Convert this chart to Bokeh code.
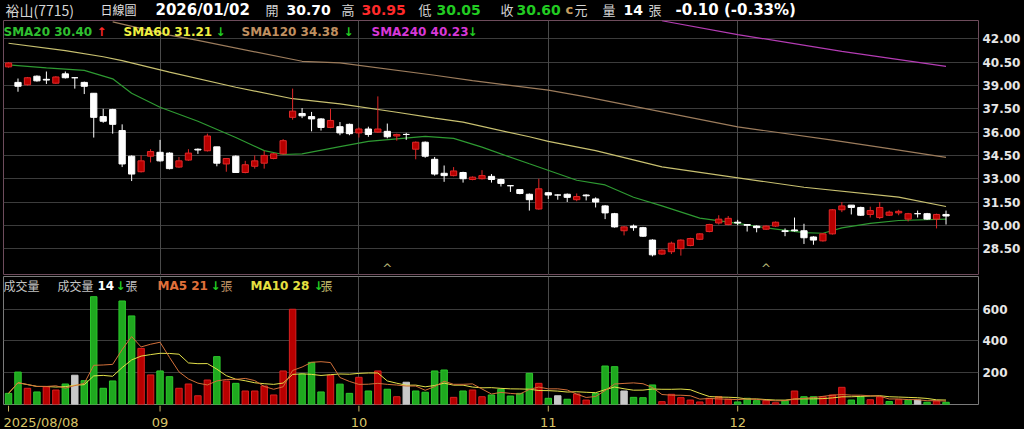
import pandas as pd
from bokeh.plotting import figure
from bokeh.layouts import column
from bokeh.models import (ColumnDataSource, FixedTicker, PrintfTickFormatter,
                          Label, Range1d, Grid)
from bokeh.core.properties import value
from bokeh.embed import file_html
from bokeh.resources import INLINE

# ---------------- data ----------------
stock_name = "裕山(7715)"
chart_kind = "日線圖"
first_date = "2025/08/08"
last_date = "2026/01/02"
month_ticks = [16, 37, 57, 77]
month_labels = ["09", "10", "11", "12"]
prev_close = 40.60

opens = [40.20, 39.20, 39.05, 39.60, 39.40, 39.15, 39.75, 39.50, 39.20, 38.50,
         37.00, 37.45, 36.10, 34.45, 33.45, 34.45, 34.70, 34.65, 33.75, 34.20,
         34.90, 34.80, 35.05, 33.95, 34.45, 33.40, 33.80, 34.00, 34.30, 34.60,
         36.95, 37.20, 37.00, 36.85, 36.30, 36.35, 36.50, 35.95, 36.20, 36.00,
         36.05, 35.75, 35.85, 34.90, 35.35, 34.25, 33.35, 33.20, 33.40, 32.95,
         33.00, 33.15, 32.95, 32.55, 32.30, 32.00, 31.05, 32.10, 31.95, 32.00,
         31.65, 31.95, 31.70, 31.25, 30.75, 29.65, 29.95, 29.85, 29.05, 28.15,
         28.30, 28.50, 28.70, 29.10, 29.60, 30.15, 30.05, 30.20, 30.05, 29.95,
         29.75, 29.95, 29.65, 29.70, 29.65, 29.25, 29.00, 29.45, 31.00, 31.30,
         31.15, 30.70, 30.50, 30.65, 30.80, 30.40, 30.75, 30.75, 30.40, 30.70]
highs = [40.50, 39.45, 39.55, 39.65, 39.90, 39.60, 39.90, 39.50, 39.25, 38.50,
         37.50, 37.50, 36.50, 34.50, 34.50, 34.90, 35.50, 34.70, 34.40, 34.90,
         34.95, 35.90, 35.05, 34.30, 34.50, 34.15, 34.50, 34.80, 34.65, 35.55,
         38.80, 37.55, 37.30, 36.90, 37.50, 36.65, 36.55, 36.30, 36.35, 38.30,
         36.55, 35.90, 35.95, 35.40, 35.40, 34.40, 33.85, 33.75, 33.45, 33.15,
         33.55, 33.30, 33.00, 32.55, 32.30, 32.05, 33.00, 32.15, 32.00, 32.05,
         32.05, 32.00, 31.80, 31.30, 30.80, 29.95, 30.05, 29.90, 29.10, 28.45,
         28.95, 29.10, 29.20, 29.50, 30.10, 30.65, 30.60, 30.35, 30.05, 30.00,
         30.00, 30.25, 29.80, 30.50, 30.10, 29.30, 29.50, 31.05, 31.50, 31.30,
         31.20, 31.20, 31.50, 30.95, 31.00, 30.80, 30.95, 30.80, 30.75, 30.95]
lows = [40.15, 38.60, 39.00, 39.25, 39.10, 39.10, 39.45, 38.80, 38.45, 35.65,
        36.60, 35.90, 33.75, 32.85, 33.40, 34.05, 34.10, 33.60, 33.70, 34.15,
        34.60, 34.75, 33.80, 33.45, 33.40, 33.35, 33.65, 33.65, 34.25, 34.55,
        36.80, 36.90, 36.05, 36.10, 36.25, 35.80, 35.80, 35.65, 35.70, 35.95,
        35.60, 35.45, 35.50, 34.25, 34.35, 33.20, 32.80, 33.15, 32.75, 32.90,
        32.95, 32.75, 32.50, 32.15, 32.00, 30.95, 31.00, 31.70, 31.65, 31.50,
        31.55, 31.60, 31.15, 30.40, 29.85, 29.35, 29.65, 29.25, 28.00, 28.10,
        28.15, 28.05, 28.65, 29.05, 29.55, 30.05, 30.00, 30.00, 29.60, 29.55,
        29.70, 29.90, 29.30, 29.60, 28.80, 28.75, 28.95, 29.40, 30.85, 30.70,
        30.60, 30.50, 30.40, 30.60, 30.65, 30.25, 30.50, 30.35, 29.80, 30.05]
closes = [40.45, 38.95, 39.50, 39.30, 39.35, 39.55, 39.50, 39.50, 38.95, 36.95,
          36.70, 36.50, 33.95, 33.30, 34.15, 34.75, 34.15, 33.65, 34.15, 34.65,
          34.85, 35.75, 34.00, 34.30, 33.40, 33.90, 34.15, 34.50, 34.60, 35.45,
          37.35, 37.05, 36.85, 36.30, 36.75, 35.95, 35.90, 36.20, 35.85, 36.20,
          35.70, 35.85, 35.85, 35.35, 34.45, 33.30, 33.20, 33.50, 33.00, 33.10,
          33.20, 32.95, 32.70, 32.55, 32.05, 31.65, 32.35, 31.95, 31.95, 31.80,
          31.85, 31.90, 31.50, 30.80, 29.90, 29.90, 29.85, 29.30, 28.10, 28.40,
          28.85, 29.05, 29.15, 29.45, 30.05, 30.40, 30.45, 30.15, 30.00, 29.85,
          29.95, 30.20, 29.60, 29.65, 29.20, 29.05, 29.45, 31.00, 31.25, 31.15,
          30.65, 30.95, 31.15, 30.85, 30.90, 30.75, 30.75, 30.40, 30.70, 30.60]
volumes = [70, 204, 102, 79, 112, 91, 129, 184, 150, 678,
           102, 148, 651, 557, 353, 186, 211, 175, 102, 129,
           55, 154, 301, 148, 133, 85, 85, 116, 60, 211,
           599, 192, 265, 79, 184, 128, 70, 171, 85, 211,
           96, 49, 140, 85, 77, 211, 217, 45, 85, 91,
           49, 60, 96, 53, 70, 196, 133, 39, 55, 33,
           66, 28, 70, 242, 238, 85, 45, 43, 123, 18,
           64, 43, 28, 16, 39, 49, 33, 16, 39, 24,
           24, 11, 24, 85, 49, 49, 49, 60, 108, 28,
           48, 30, 48, 19, 30, 27, 28, 14, 22, 14]

# moving averages of price (bar index, value)
sma20_idx = [0, 4, 8, 11, 13, 16, 20, 24, 27, 29, 31, 35, 38, 41, 44, 47, 50,
             55, 60, 63, 66, 69, 73, 77, 80, 84, 86, 88, 91, 94, 99]
sma20_val = [40.33, 40.14, 39.97, 39.43, 38.50, 37.60, 36.70, 35.65, 34.81, 34.56,
             34.60, 35.07, 35.40, 35.57, 35.72, 35.60, 35.03, 33.96, 32.90, 32.60,
             31.81, 31.25, 30.46, 30.12, 29.84, 29.53, 29.49, 29.84, 30.12, 30.31, 30.40]
sma60_idx = [0, 6, 10, 12, 17, 24, 30, 35, 41, 45, 48, 55, 57, 62, 69, 84, 94, 99]
sma60_val = [41.72, 41.25, 40.85, 40.60, 39.86, 38.89, 38.15, 37.82, 37.28, 36.90,
             36.64, 35.70, 35.40, 34.81, 33.76, 32.45, 31.81, 31.21]
sma120_idx = [11, 17, 20, 31, 35, 45, 49, 57, 61, 69, 77, 87, 93, 99]
sma120_val = [43.10, 42.24, 41.90, 40.56, 40.46, 39.66, 39.32, 38.70, 38.27, 37.30,
              36.34, 35.48, 34.94, 34.38]
sma240_idx = [69, 77, 88, 99]
sma240_val = [43.17, 42.28, 41.20, 40.23]

event_idx = [40, 80]
price_ticks = [28.5, 30.0, 31.5, 33.0, 34.5, 36.0, 37.5, 39.0, 40.5, 42.0]
volume_ticks = [200, 400, 600]

# ---------------- styling ----------------
BG = "black"
RED_FILL, RED_EDGE = "#b80000", "#e02828"
WHITE = "#ffffff"
VOL_UP, VOL_UP_EDGE = "#b80000", "#d82020"
VOL_DN, VOL_DN_EDGE = "#1fa81f", "#2cc82c"
VOL_FLAT = "#c8c8c8"
GRID_H, GRID_V = "#3c3c3c", "#4a4a4a"
UP_TXT, DN_TXT = "#ff2a2a", "#22cc22"
DATE_TXT = "#d8c468"
LABEL_TXT = "#d4d4d4"
LATIN = "DejaVu Sans"
CJK = "Noto Sans CJK TC"

W = 1024
X0, X1 = -0.53, 102.43

idx = list(range(len(closes)))


def put(fig, text, sx, sy, color, size, bold=False, font=LATIN):
    fig.add_layout(Label(x=sx, y=sy, x_units="screen", y_units="screen",
                         text=text, text_color=color, text_font=font,
                         text_font_size=f"{size}px",
                         text_font_style="bold" if bold else "normal",
                         text_baseline="middle", text_align="left"))


def arrow(vals):
    return ("↑", UP_TXT) if vals[-1] >= vals[-2] else ("↓", DN_TXT)


def strip_grids(fig):
    fig.center = [r for r in fig.center if not isinstance(r, Grid)]


def right_axis_style(ax, ticks):
    ax.ticker = FixedTicker(ticks=ticks)
    ax.major_label_text_font = LATIN
    ax.major_label_text_font_size = "12px"
    ax.major_label_text_font_style = "bold"
    ax.major_label_text_color = "#e6e6e6"
    ax.major_tick_line_color = None
    ax.minor_tick_line_color = None
    ax.major_tick_out = 0
    ax.major_tick_in = 0
    ax.axis_line_color = None
    ax.major_label_standoff = 4


# ---------------- quote header ----------------
ph = figure(width=W, height=20, x_range=Range1d(0, W), y_range=Range1d(0, 20),
            output_backend="svg", toolbar_location=None,
            x_axis_location=None, y_axis_location=None,
            min_border_left=0, min_border_right=0, min_border_top=0,
            min_border_bottom=0, background_fill_color=BG, border_fill_color=BG,
            outline_line_color=None)
strip_grids(ph)

o, h, l, c = opens[-1], highs[-1], lows[-1], closes[-1]
chg = c - closes[-2]
pct = chg / closes[-2] * 100


def tone(v):
    return UP_TXT if v > closes[-2] else (DN_TXT if v < closes[-2] else WHITE)


HY = 11
put(ph, stock_name, 2, HY, LABEL_TXT, 14, font=CJK)
put(ph, chart_kind, 97, HY, "#e0e0e0", 12, font=CJK)
put(ph, last_date, 152, HY, WHITE, 15, bold=True)
put(ph, "開", 262, HY, LABEL_TXT, 13, font=CJK)
put(ph, f"{o:.2f}", 283, HY, tone(o), 14, bold=True)
put(ph, "高", 338, HY, LABEL_TXT, 13, font=CJK)
put(ph, f"{h:.2f}", 358, HY, tone(h), 14, bold=True)
put(ph, "低", 415, HY, LABEL_TXT, 13, font=CJK)
put(ph, f"{l:.2f}", 433, HY, tone(l), 14, bold=True)
put(ph, "收", 497, HY, LABEL_TXT, 13, font=CJK)
put(ph, f"{c:.2f}", 513, HY, tone(c), 14, bold=True)
put(ph, "c", 562, HY, "#c8a060", 13, bold=True)
put(ph, "元", 571, HY, LABEL_TXT, 13, font=CJK)
put(ph, "量", 599, HY, LABEL_TXT, 13, font=CJK)
put(ph, f"{volumes[-1]}", 620, HY, WHITE, 14, bold=True)
put(ph, "張", 645, HY, LABEL_TXT, 13, font=CJK)
put(ph, f"{chg:.2f} ({pct:.2f}%)", 672, HY, WHITE, 15, bold=True)

# ---------------- price panel ----------------
p1 = figure(width=W, height=255, x_range=Range1d(X0, X1),
            y_range=Range1d(26.77, 43.185), output_backend="svg",
            toolbar_location=None, x_axis_location=None, y_axis_location="right",
            min_border_left=3, min_border_right=46, min_border_top=0,
            min_border_bottom=0, background_fill_color=BG, border_fill_color=BG,
            outline_line_color="#6e4c5c")
strip_grids(p1)
p1.add_layout(Grid(dimension=1, ticker=FixedTicker(ticks=price_ticks),
                   grid_line_color=GRID_H))
p1.add_layout(Grid(dimension=0, ticker=FixedTicker(ticks=month_ticks),
                   grid_line_color=GRID_V))
right_axis_style(p1.yaxis[0], price_ticks)
p1.yaxis[0].formatter = PrintfTickFormatter(format="%.2f")

p1.line(sma240_idx, sma240_val, line_color="#b43cb4", line_width=1.2)
p1.line(sma120_idx, sma120_val, line_color="#9c7c5c", line_width=1.2)
p1.line(sma60_idx, sma60_val, line_color="#c8c070", line_width=1.2)
p1.line(sma20_idx, sma20_val, line_color="#2e9a32", line_width=1.2)

up = [c_ > o_ for o_, c_ in zip(opens, closes)]
csrc = ColumnDataSource(dict(
    x=idx, h=highs, l=lows,
    top=[max(a, b) for a, b in zip(opens, closes)],
    bottom=[min(a, b) for a, b in zip(opens, closes)],
    fill=[RED_FILL if u else WHITE for u in up],
    edge=[RED_EDGE if u else WHITE for u in up],
))
p1.segment(x0="x", y0="l", x1="x", y1="h", line_color="edge", line_width=1,
           source=csrc)
p1.vbar(x="x", width=0.66, top="top", bottom="bottom", fill_color="fill",
        line_color="edge", line_width=1, source=csrc)

p1.text(x=event_idx, y=[p1.y_range.start] * len(event_idx),
        text=["^"] * len(event_idx), text_align="center", text_baseline="bottom",
        text_color="#b8b878", text_font=value(LATIN), text_font_size="12px")

# moving-average legend inside the price frame
LY = 255 - 11
sma_items = [("SMA20", sma20_val, "#30c030", 0, 93),
             ("SMA60", sma60_val, "#f0f040", 120, 212),
             ("SMA120", sma120_val, "#c09060", 238, 340),
             ("SMA240", sma240_val, "#d838d8", 368, 464)]
for name, vals, col, sx, ax in sma_items:
    put(p1, f"{name} {vals[-1]:.2f}", sx, LY, col, 12, bold=True)
    a, acol = arrow(vals)
    put(p1, a, ax, LY, acol, 12, bold=True)

# ---------------- volume panel ----------------
p2 = figure(width=W, height=130, x_range=p1.x_range, y_range=Range1d(0, 805),
            output_backend="svg", toolbar_location=None, x_axis_location=None,
            y_axis_location="right",
            min_border_left=3, min_border_right=46, min_border_top=1,
            min_border_bottom=1, background_fill_color=BG, border_fill_color=BG,
            outline_line_color="#7a7a7a")
strip_grids(p2)
p2.add_layout(Grid(dimension=1, ticker=FixedTicker(ticks=volume_ticks),
                   grid_line_color=GRID_H))
p2.add_layout(Grid(dimension=0, ticker=FixedTicker(ticks=month_ticks),
                   grid_line_color=GRID_V))
right_axis_style(p2.yaxis[0], volume_ticks)

prev = [prev_close] + closes[:-1]
vcol = [VOL_UP if c_ > p_ else (VOL_DN if c_ < p_ else VOL_FLAT) for c_, p_ in zip(closes, prev)]
vedge = [VOL_UP_EDGE if c_ > p_ else (VOL_DN_EDGE if c_ < p_ else VOL_FLAT) for c_, p_ in zip(closes, prev)]
p2.vbar(x=idx, width=0.68, top=volumes, bottom=0, fill_color=vcol,
        line_color=vedge, line_width=1)

vs = pd.Series(volumes, dtype=float)
ma5 = vs.rolling(5, min_periods=1).mean()
ma10 = vs.rolling(10, min_periods=1).mean()
p2.line(idx, ma10.tolist(), line_color="#e3e04a", line_width=1)
p2.line(idx, ma5.tolist(), line_color="#d2703a", line_width=1)

VY = 128 - 9
put(p2, "成交量", 0, VY, "#c4c4c4", 12, font=CJK)
put(p2, "成交量", 54, VY, "#c4c4c4", 12, font=CJK)
put(p2, f"{volumes[-1]}", 94, VY, WHITE, 12, bold=True)
a, acol = arrow(volumes)
put(p2, a, 112, VY, acol, 12, bold=True)
put(p2, "張", 122, VY, "#c4c4c4", 12, font=CJK)
put(p2, f"MA5 {ma5.iloc[-1]:.0f}", 154, VY, "#e0703a", 12, bold=True)
a, acol = arrow(ma5.tolist())
put(p2, a, 207, VY, acol, 12, bold=True)
put(p2, "張", 217, VY, "#c89a6a", 12, font=CJK)
put(p2, f"MA10 {ma10.iloc[-1]:.0f}", 247, VY, "#e6e040", 12, bold=True)
a, acol = arrow(ma10.tolist())
put(p2, a, 310, VY, acol, 12, bold=True)
put(p2, "張", 317, VY, "#c8c070", 12, font=CJK)

# ---------------- date strip ----------------
p3 = figure(width=W, height=24, x_range=p1.x_range, y_range=Range1d(24, 0),
            output_backend="svg", toolbar_location=None,
            x_axis_location=None, y_axis_location=None,
            min_border_left=3, min_border_right=46, min_border_top=0,
            min_border_bottom=0, background_fill_color=BG, border_fill_color=BG,
            outline_line_color=None)
strip_grids(p3)
tick_x = [0] + month_ticks
p3.segment(x0=tick_x, y0=[0] * len(tick_x), x1=tick_x, y1=[6] * len(tick_x),
           line_color="#c8b060", line_width=1)
p3.text(x=month_ticks, y=[16.5] * len(month_ticks), text=month_labels,
        text_align="center", text_baseline="middle", text_color=DATE_TXT,
        text_font=value(LATIN), text_font_size="13px")
p3.text(x=[0], y=[16.5], text=[first_date], text_align="left",
        text_baseline="middle", text_color=DATE_TXT, text_font=value(LATIN),
        text_font_size="13px", x_offset=-5)

layout = column(ph, p1, p2, p3, spacing=0, background=BG)

with open("out.html", "w") as f:
    f.write(file_html(layout, INLINE))
